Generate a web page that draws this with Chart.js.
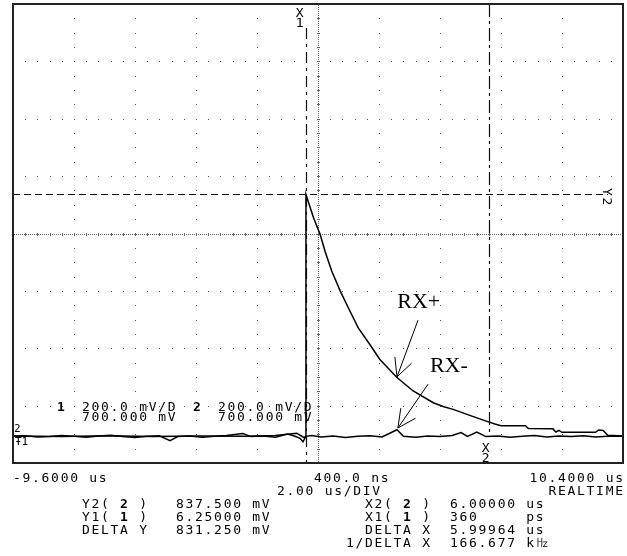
<!DOCTYPE html>
<html>
<head>
<meta charset="utf-8">
<script src="https://cdn.jsdelivr.net/npm/chart.js@4.4.1/dist/chart.umd.min.js"></script>
<style>
  html, body { margin: 0; padding: 0; background: #fff; }
  #wrap { position: relative; width: 627px; height: 556px; overflow: hidden; }
  #scope { position: absolute; left: 0; top: 0; }
  .ro { position: absolute; font-family: "DejaVu Sans Mono", monospace; font-size: 13px; line-height: 13px;
        letter-spacing: 1.7px; white-space: pre; color: #000; }
  .ro b { font-weight: bold; }
  .note { position: absolute; font-family: "Liberation Serif", "Times New Roman", serif; font-size: 22px;
          line-height: 22px; white-space: pre; color: #000; }
  .small { position: absolute; font-family: "DejaVu Sans Mono", monospace; font-size: 11px; line-height: 11px; white-space: pre; }
</style>
</head>
<body>
<div id="wrap"><canvas id="scope" width="627" height="556"></canvas></div>
<script>
// scope screen: time in us, voltage in mV
const xMin = -9.6, xMax = 10.4, xDiv = 2.0;
const yMin = -100, yMax = 1500, yDiv = 200;

const xTickValues = [-9.6, 0.4, 10.4];
const xTickLabels = ['-9.6000 us', '400.0 ns', '10.4000 us'];

// RX+ : flat, then a step at the trigger and a slow decay
const rxPlusUs = [-9.6, -8.0, -6.5, -5.0, -3.5, -2.0, -1.0, -0.3, -0.05, 0.0,
  0.005, 0.25, 0.47, 0.63, 0.85, 1.13, 1.45, 1.72, 2.10, 2.43,
  2.98, 3.52, 4.18, 4.5, 4.83, 5.4, 5.94, 6.2, 6.4, 7.2,
  7.3, 8.1, 8.2, 8.3, 8.4, 9.5, 9.6, 9.75, 9.9, 10.4];
const rxPlusMv = [-6, -8, -5, -8, -6, -7, -4, 4, -12, -7,
  836, 756, 697, 638, 569, 499, 429, 371, 313, 261,
  199, 151, 110, 97, 87, 65, 45, 36, 30, 30,
  20, 19, 8, 14, 7, 7, 15, 13, -3, -6];

// RX- : stays on the baseline, small glitches
const rxMinusUs = [-9.6, -9.2, -8.8, -8.4, -8.0, -7.6, -7.2, -6.8, -6.4, -6.0,
  -5.6, -5.2, -4.8, -4.45, -4.2, -3.8, -3.4, -3.0, -2.6, -2.06,
  -1.8, -1.4, -1.0, -0.6, -0.4, -0.2, -0.09, 0.0, 0.2, 0.5,
  0.9, 1.3, 1.7, 2.1, 2.5, 2.99, 3.2, 3.6, 4.0, 4.4,
  4.8, 5.09, 5.3, 5.61, 5.9, 6.3, 6.7, 7.1, 7.5, 7.9,
  8.3, 8.7, 9.1, 9.5, 9.9, 10.4];
const rxMinusMv = [-7, -5, -9, -8, -4, -7, -10, -6, -3, -8,
  -11, -7, -5, -22, -8, -6, -10, -7, -4, 3,
  -8, -6, -10, 1, -5, -13, -26, -7, -4, -9,
  -6, -11, -7, -5, -9, 16, -7, -10, -6, -8,
  -4, 6, -7, 8, -8, -6, -10, -7, -4, -9,
  -6, -8, -5, -9, -7, -7];

// cursors
const cursorXUs = [0.00036, 6.0];   // X1, X2
const cursorYMv = [6.25, 837.5];    // Y1, Y2

// annotations (RX+, RX-)
const noteText = ['RX+', 'RX-'];
const noteUs = [3.0, 4.07];
const noteMv = [440, 217];
const arrowFromUs = [3.68, 4.01];
const arrowFromMv = [398, 175];
const arrowToUs = [2.99, 3.02];
const arrowToMv = [200, 22];

// readouts
const channelNums = ['1', '2'];
const channelScale = ['200.0 mV/D', '200.0 mV/D'];
const channelOffset = ['700.000 mV', '700.000 mV'];
const timebase = '2.00 us/DIV';
const acqMode = 'REALTIME';
const leftLabels = ['Y2(2)', 'Y1(1)', 'DELTA Y'];
const leftValues = ['837.500 mV', '6.25000 mV', '831.250 mV'];
const rightLabels = ['X2(2)', 'X1(1)', 'DELTA X', '1/DELTA X'];
const rightValues = ['6.00000 us', '360     ps', '5.99964 us', '166.677 k\u3390'];

const W = 627, LS = 1.7;

const scopeGrid = {
  id: 'scopeGrid',
  beforeDatasetsDraw(chart) {
    const { ctx, chartArea: a, scales: { x, y } } = chart;
    const nx = Math.round((xMax - xMin) / xDiv);
    const ny = Math.round((yMax - yMin) / yDiv);
    const px = v => Math.round(x.getPixelForValue(v));
    const py = v => Math.round(y.getPixelForValue(v));
    ctx.save();
    ctx.fillStyle = '#555';
    for (let i = 1; i < nx; i++) {
      if (i === nx / 2) continue;
      for (let j = 1; j < ny * 4; j++) ctx.fillRect(px(xMin + i * xDiv), py(yMin + j * yDiv / 4), 1, 1);
    }
    for (let j = 1; j < ny; j++) {
      if (j === ny / 2) continue;
      for (let i = 1; i < nx * 5; i++) ctx.fillRect(px(xMin + i * xDiv / 5), py(yMin + j * yDiv), 1, 1);
    }
    // centre axes: fine dots with minor ticks
    const cx = px(xMin + nx / 2 * xDiv), cy = py(yMin + ny / 2 * yDiv);
    ctx.fillStyle = '#666';
    for (let p = a.top + 1; p < a.bottom; p += 2) ctx.fillRect(cx, p, 1, 1);
    for (let p = a.left + 1; p < a.right; p += 2) ctx.fillRect(p, cy, 1, 1);
    for (let i = 1; i < nx * 5; i++) ctx.fillRect(px(xMin + i * xDiv / 5), cy - 1, 1, 3);
    for (let j = 1; j < ny * 4; j++) ctx.fillRect(cx - 1, py(yMin + j * yDiv / 4), 3, 1);

    // cursors
    ctx.strokeStyle = '#111';
    ctx.lineWidth = 1.2;
    const vline = (xx, y0, y1, dash) => {
      ctx.setLineDash(dash); ctx.beginPath(); ctx.moveTo(xx, y0); ctx.lineTo(xx, y1); ctx.stroke();
    };
    const x1 = px(cursorXUs[0]) + 0.5, x2 = px(cursorXUs[1]) + 0.5;
    vline(x1, a.top + 24, a.bottom, [11, 5, 3, 5]);
    vline(x2, a.top, a.bottom - 26, [13, 4, 3, 4]);
    const y2 = py(cursorYMv[1]) + 0.5;
    ctx.setLineDash([7, 4]);
    ctx.beginPath(); ctx.moveTo(a.left, y2); ctx.lineTo(a.right - 15, y2); ctx.stroke();
    ctx.restore();
  },
  afterDatasetsDraw(chart) {
    const { ctx, chartArea: a, scales: { x, y } } = chart;
    ctx.save();
    ctx.strokeStyle = '#000';
    ctx.lineWidth = 1;
    arrowFromUs.forEach((_, i) => {
      const x0 = x.getPixelForValue(arrowFromUs[i]), y0 = y.getPixelForValue(arrowFromMv[i]);
      const x1 = x.getPixelForValue(arrowToUs[i]), y1 = y.getPixelForValue(arrowToMv[i]);
      const ang = Math.atan2(y0 - y1, x0 - x1);
      ctx.beginPath();
      ctx.moveTo(x0, y0); ctx.lineTo(x1, y1);
      [-0.46, 0.46].forEach(d => {
        ctx.moveTo(x1, y1);
        ctx.lineTo(x1 + 20 * Math.cos(ang + d), y1 + 20 * Math.sin(ang + d));
      });
      ctx.stroke();
    });
    // screen frame
    ctx.strokeStyle = '#222';
    ctx.lineWidth = 2;
    ctx.strokeRect(a.left, a.top, a.right - a.left, a.bottom - a.top);
    ctx.restore();
  }
};

const chart = new Chart(document.getElementById('scope'), {
  type: 'line',
  data: {
    datasets: [
      { label: 'RX-', data: rxMinusUs.map((t, i) => ({ x: t, y: rxMinusMv[i] })) },
      { label: 'RX+', data: rxPlusUs.map((t, i) => ({ x: t, y: rxPlusMv[i] })) },
    ].map(d => ({ ...d, borderColor: '#000', borderWidth: 1.5, pointRadius: 0, tension: 0, fill: false })),
  },
  options: {
    responsive: false,
    animation: false,
    devicePixelRatio: 1,
    layout: { padding: { left: 13, top: 4, right: 4, bottom: 93 } },
    plugins: { legend: { display: false }, tooltip: { enabled: false } },
    scales: {
      x: { type: 'linear', min: xMin, max: xMax, display: false },
      y: { type: 'linear', min: yMin, max: yMax, display: false },
    },
  },
  plugins: [scopeGrid],
});

// ---- text overlays ----
const wrap = document.getElementById('wrap');
function addText(cls, html, left, top, right) {
  const el = document.createElement('div');
  el.className = cls;
  el.innerHTML = html;
  el.style.top = top + 'px';
  if (right) el.style.right = (W - left - (cls === 'ro' ? LS : 0)) + 'px';
  else el.style.left = left + 'px';
  wrap.appendChild(el);
  return el;
}
const sx = chart.scales.x, sy = chart.scales.y;
const area = chart.chartArea;

// time axis labels under the screen
xTickValues.forEach((v, i) => {
  const p = sx.getPixelForValue(v);
  if (i === 0) addText('ro', xTickLabels[i], p, 470.5);
  else if (i === xTickValues.length - 1) addText('ro', xTickLabels[i], p, 470.5, true);
  else addText('ro', xTickLabels[i], p - 4, 470.5);
});
addText('ro', timebase, 277, 483.5);
addText('ro', acqMode, area.right, 483.5, true);

const bold = s => s.replace(/\((\d)\)/, '( <b>$1</b> )');
leftLabels.forEach((s, i) => {
  addText('ro', bold(s), 147, 496.5 + i * 13, true);
  addText('ro', leftValues[i], 176, 496.5 + i * 13);
});
rightLabels.forEach((s, i) => {
  addText('ro', bold(s), 430, 496.5 + i * 13, true);
  addText('ro', rightValues[i], 450, 496.5 + i * 13);
});

// channel settings on the screen
addText('ro', '<b>' + channelNums[0] + '</b>', 57, 399.5);
addText('ro', channelScale[0], 82, 399.5);
addText('ro', '<b>' + channelNums[1] + '</b>', 193, 399.5);
addText('ro', channelScale[1], 218, 399.5);
addText('ro', channelOffset[0], 82, 409.5);
addText('ro', channelOffset[1], 218, 409.5);

// cursor tags
const cx1 = sx.getPixelForValue(cursorXUs[0]);
const cx2 = sx.getPixelForValue(cursorXUs[1]);
const cy2 = sy.getPixelForValue(cursorYMv[1]);
addText('ro', 'X', cx1 - 10, 6);
addText('ro', '1', cx1 - 10, 16);
addText('ro', 'X', cx2 - 7, 441);
addText('ro', '2', cx2 - 7, 451);
const ytag = addText('ro', 'Y2', area.right - 25, cy2 - 3);
ytag.style.transform = 'rotate(90deg)';

// ground markers at the left edge
addText('small', '2', area.left + 1, 423);
addText('small', '\u01661', area.left + 2, 436);

// trace notes
noteText.forEach((s, i) => {
  addText('note', s, sx.getPixelForValue(noteUs[i]), sy.getPixelForValue(noteMv[i]) - 18.4);
});
</script>
</body>
</html>
